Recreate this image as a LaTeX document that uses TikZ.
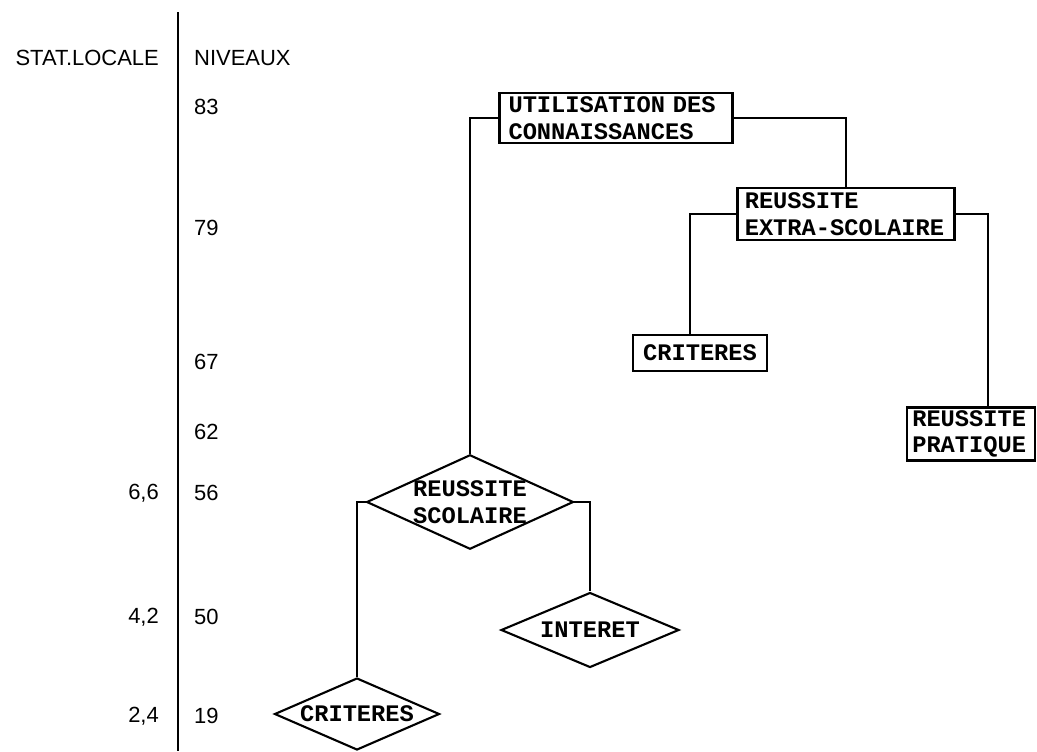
\documentclass[tikz,border=0pt]{standalone}
\usepackage{fontspec}
\setmainfont{Liberation Sans}
\newfontfamily\typew{Liberation Mono}
\usetikzlibrary{positioning, shapes.geometric}

\begin{document}
\begin{tikzpicture}[x=0.02cm, y=-0.02cm,
    box/.style={draw, line width=1.2pt, inner sep=0pt, font=\typew\bfseries\fontsize{13.5}{15}\selectfont, align=left},
    losange/.style={draw, diamond, line width=1.2pt, inner sep=0pt, font=\typew\bfseries\fontsize{13.5}{15}\selectfont, align=center},
    lien/.style={line width=1.1pt},
    lvl/.style={anchor=west, font=\fontsize{12.5}{14}\selectfont},
    stat/.style={anchor=east, font=\fontsize{12.5}{14}\selectfont}]
    \useasboundingbox (0,0) rectangle (1037,751);

    % axe des niveaux
    \coordinate (axtop) at (178,12);
    \coordinate (axbot) at (178,751);
    \draw[line width=1pt] (axtop) -- (axbot);
    \node[stat] (titstat) at (165,58) {STAT.LOCALE};
    \node[lvl] (titniv) at (188,58) {NIVEAUX};

    \foreach \v/\y in {83/107, 79/228, 67/362, 62/432, 56/493, 50/617, 19/716}
        \node[lvl] (n\v) at (188,\y) {\v};
    \foreach \s/\y/\n in {{6,6}/493/a, {4,2}/617/b, {2,4}/716/c}
        \node[stat] (s\n) at (165,\y) {\s};

    % classes
    \node[box, minimum width=4.66cm, minimum height=1cm, text width=4.3cm] (util) at (616,118)
        {UTILISATION DES\\CONNAISSANCES};
    \node[box, minimum width=4.34cm, minimum height=1.04cm, text width=4.05cm] (extra) at (846,214)
        {REUSSITE\\EXTRA-SCOLAIRE};
    \node[box, minimum width=2.68cm, minimum height=0.72cm] (crit) at (700,353) {CRITERES};
    \node[box, minimum width=2.56cm, minimum height=1.06cm, text width=2.35cm] (prat) at (971,434)
        {REUSSITE\\PRATIQUE};

    \node[losange, aspect=2.19, minimum width=4.12cm, minimum height=1.88cm] (scol) at (470,502)
        {REUSSITE\\SCOLAIRE};
    \node[losange, aspect=2.37, minimum width=3.56cm, minimum height=1.5cm] (inter) at (590,630) {INTERET};
    \node[losange, aspect=2.3, minimum width=3.3cm, minimum height=1.44cm] (crit2) at (357,714) {CRITERES};

    % liaisons
    \draw[lien] (util.west) -| (scol.north);
    \draw[lien] (util.east) -| (extra.north);
    \draw[lien] (extra.west) -| ([xshift=-0.2cm]crit.north);
    \draw[lien] (extra.east) -| ([xshift=0.34cm]prat.north);
    \draw[lien] (scol.west) -| (crit2.north);
    \draw[lien] (scol.east) -| (inter.north);
\end{tikzpicture}
\end{document}
